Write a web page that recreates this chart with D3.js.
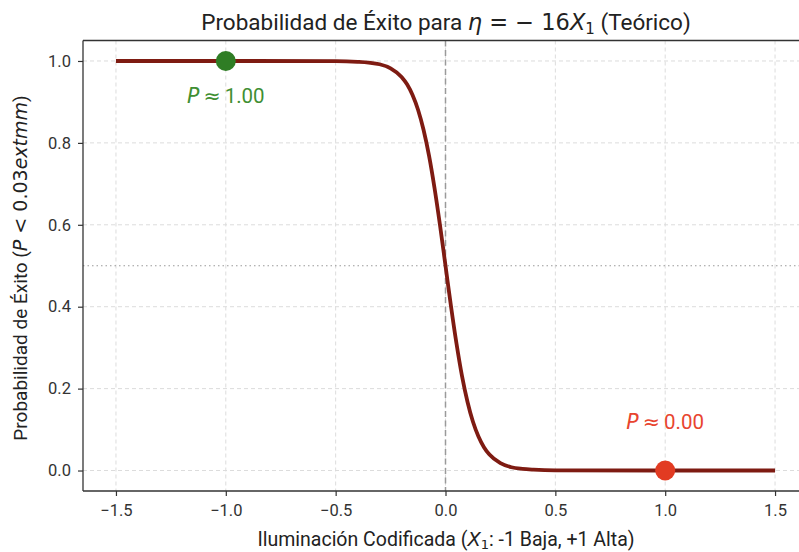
<!DOCTYPE html>
<html>
<head>
  <script src="https://d3js.org/d3.v7.min.js"></script>
  <style>
    body { margin: 0; background: #fff; }
    text { font-family: Roboto, "Noto Sans", sans-serif; fill: #222; }
  </style>
</head>
<body>
<svg id="chart" width="799" height="552"></svg>
<script>
  // curve
  let curveX = [-1.5, -1.0, -0.5, -0.4, -0.35, -0.3, -0.25, -0.2, -0.175, -0.15, -0.125, -0.1, -0.075, -0.05, -0.025,
    0, 0.025, 0.05, 0.075, 0.1, 0.125, 0.15, 0.175, 0.2, 0.25, 0.3, 0.35, 0.4, 0.5, 1.0, 1.5];
  let curveP = [1.0, 1.0, 0.9997, 0.998, 0.996, 0.992, 0.982, 0.961, 0.943, 0.917, 0.881, 0.832, 0.769, 0.690, 0.599,
    0.5, 0.401, 0.310, 0.231, 0.168, 0.119, 0.083, 0.057, 0.039, 0.018, 0.008, 0.004, 0.002, 0.0003, 0.0, 0.0];
  let pointX = [-1, 1];
  let pointP = [1.0, 0.0];
  let pointLabels = ["1.00", "0.00"];
  let pointColors = ["#2f7d25", "#e23b22"];
  let labelColors = ["#3f8f33", "#e8452f"];
  let xTicks = [-1.5, -1.0, -0.5, 0.0, 0.5, 1.0, 1.5];
  let yTicks = [0.0, 0.2, 0.4, 0.6, 0.8, 1.0];

  let margins = { left: 83, right: 808, top: 40.5, bottom: 491 };
  let svg = d3.select("#chart");

  let x = d3.scaleLinear().domain([-1.65, 1.65]).range([margins.left, margins.right]);
  let y = d3.scaleLinear().domain([-0.05, 1.05]).range([margins.bottom, margins.top]);

  // grid
  let grid = svg.append("g");
  grid.selectAll(".gx").data(xTicks).enter().append("line")
    .attr("x1", d => x(d)).attr("x2", d => x(d))
    .attr("y1", margins.top).attr("y2", margins.bottom)
    .attr("stroke", "#dcdcdc").attr("stroke-width", 1).attr("stroke-dasharray", "4,3");
  grid.selectAll(".gy").data(yTicks).enter().append("line")
    .attr("x1", margins.left).attr("x2", margins.right)
    .attr("y1", d => y(d)).attr("y2", d => y(d))
    .attr("stroke", "#dcdcdc").attr("stroke-width", 1).attr("stroke-dasharray", "4,3");

  // reference lines
  svg.append("line")
    .attr("x1", x(0)).attr("x2", x(0)).attr("y1", margins.top).attr("y2", margins.bottom)
    .attr("stroke", "#9a9a9a").attr("stroke-width", 1.5).attr("stroke-dasharray", "6,3.5");
  svg.append("line")
    .attr("x1", margins.left).attr("x2", margins.right).attr("y1", y(0.5)).attr("y2", y(0.5))
    .attr("stroke", "#9a9a9a").attr("stroke-width", 1.2).attr("stroke-dasharray", "1.5,3");

  // curve
  let line = d3.line().x(d => x(d[0])).y(d => y(d[1])).curve(d3.curveMonotoneX);
  svg.append("path")
    .datum(d3.zip(curveX, curveP))
    .attr("d", line)
    .attr("fill", "none").attr("stroke", "#7e1b12").attr("stroke-width", 3.8);

  // points
  svg.selectAll(".pt").data(d3.range(pointX.length)).enter().append("circle")
    .attr("cx", i => x(pointX[i])).attr("cy", i => y(pointP[i])).attr("r", 10)
    .attr("fill", i => pointColors[i]);

  let lbl = svg.selectAll(".lbl").data(d3.range(pointX.length)).enter().append("text")
    .attr("x", i => x(pointX[i]))
    .attr("y", i => pointP[i] > 0.5 ? y(pointP[i]) + 42 : y(pointP[i]) - 42)
    .attr("text-anchor", "middle")
    .style("font-size", "20.5px")
    .style("fill", i => labelColors[i]);
  lbl.append("tspan").style("font-family", "DejaVu Sans").style("font-style", "italic").style("fill", i => labelColors[i]).text("P");
  lbl.append("tspan").style("font-family", "DejaVu Sans").style("fill", i => labelColors[i]).text("\u2009≈\u2009");
  lbl.append("tspan").style("fill", i => labelColors[i]).text(i => pointLabels[i]);

  // axes
  let xAxis = svg.append("g").attr("transform", `translate(0, ${margins.bottom})`)
    .call(d3.axisBottom(x).tickValues(xTicks).tickFormat(d => d3.format(".1f")(d).replace("-", "\u2212")).tickSize(5).tickPadding(8));
  let yAxis = svg.append("g").attr("transform", `translate(${margins.left}, 0)`)
    .call(d3.axisLeft(y).tickValues(yTicks).tickFormat(d3.format(".1f")).tickSize(5).tickPadding(7));
  [xAxis, yAxis].forEach(a => {
    a.select(".domain").remove();
    a.selectAll(".tick line").attr("stroke", "#333").attr("stroke-width", 1.2);
    a.selectAll(".tick text").style("font-size", "16.5px").style("fill", "#333").style("font-family", "Roboto, sans-serif");
  });

  // spines
  svg.append("line").attr("x1", margins.left).attr("x2", margins.left)
    .attr("y1", margins.top).attr("y2", margins.bottom).attr("stroke", "#333").attr("stroke-width", 1.3);
  svg.append("line").attr("x1", margins.left).attr("x2", margins.right)
    .attr("y1", margins.bottom).attr("y2", margins.bottom).attr("stroke", "#333").attr("stroke-width", 1.3);
  svg.append("line").attr("x1", margins.left).attr("x2", margins.right)
    .attr("y1", margins.top).attr("y2", margins.top).attr("stroke", "#333").attr("stroke-width", 1.3);

  // title
  let title = svg.append("text").attr("x", 446).attr("y", 30).attr("text-anchor", "middle").style("font-size", "22.5px");
  title.append("tspan").text("Probabilidad de Éxito para ");
  title.append("tspan").style("font-family", "DejaVu Sans").style("font-style", "italic").text("η");
  title.append("tspan").style("font-family", "DejaVu Sans").text(" = \u2212 16");
  title.append("tspan").style("font-family", "DejaVu Sans").style("font-style", "italic").text("X");
  title.append("tspan").style("font-family", "DejaVu Sans").style("font-size", "15px").attr("dy", 4).text("1");
  title.append("tspan").attr("dy", -4).text(" (Teórico)");

  // x label
  let xl = svg.append("text").attr("x", 446).attr("y", 546).attr("text-anchor", "middle").style("font-size", "19.5px");
  xl.append("tspan").text("Iluminación Codificada (");
  xl.append("tspan").style("font-family", "DejaVu Sans").style("font-style", "italic").text("X");
  xl.append("tspan").style("font-family", "DejaVu Sans").style("font-size", "13px").attr("dy", 3).text("1");
  xl.append("tspan").attr("dy", -3).text(": -1 Baja, +1 Alta)");

  // y label
  let yl = svg.append("text").attr("transform", "translate(27, 268) rotate(-90)")
    .attr("text-anchor", "middle").style("font-size", "19px");
  yl.append("tspan").text("Probabilidad de Éxito (");
  yl.append("tspan").style("font-family", "DejaVu Sans").style("font-style", "italic").text("P");
  yl.append("tspan").style("font-family", "DejaVu Sans").text(" < 0.03");
  yl.append("tspan").style("font-family", "DejaVu Sans").style("font-style", "italic").text("extmm");
  yl.append("tspan").text(")");
</script>
</body>
</html>
